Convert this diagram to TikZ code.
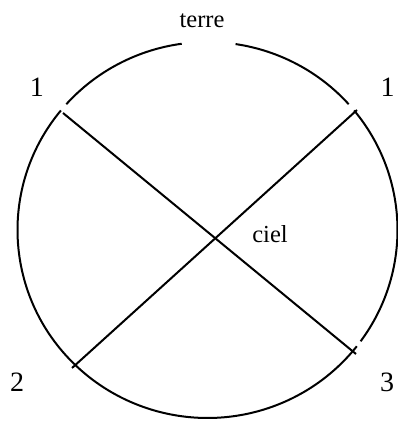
\documentclass[tikz,border=0pt]{standalone}
\usepackage{fontspec}
\setmainfont{Liberation Serif}
\usepackage{tikz}
\usetikzlibrary{positioning, calc}

\begin{document}
\begin{tikzpicture}[x=1pt, y=1pt,
    rim/.style={line width=2pt},
    bar/.style={line width=2pt},
    word/.style={font=\fontsize{24.5}{28}\selectfont, inner sep=0pt, anchor=base},
    num/.style={font=\fontsize{28}{30}\selectfont, inner sep=0pt, anchor=base}]
    \useasboundingbox (0,0) rectangle (398,421);
    \coordinate (c) at (207.5,191);
    % circle, broken in four places
    \draw[rim] ($(c)+(97.8:190 and 188)$) arc[start angle=97.8, end angle=138, x radius=190, y radius=188];
    \draw[rim] ($(c)+(140.5:190 and 188)$) arc[start angle=140.5, end angle=321.8, x radius=190, y radius=188];
    \draw[rim] ($(c)+(323.7:190 and 188)$) arc[start angle=323.7, end angle=399.5, x radius=190, y radius=188];
    \draw[rim] ($(c)+(42:190 and 188)$) arc[start angle=42, end angle=81.5, x radius=190, y radius=188];
    % ends of the two bars
    \coordinate (ul) at (63,308);
    \coordinate (ur) at (357,311);
    \coordinate (ll) at (72,53);
    \coordinate (lr) at (356,67);
    \draw[bar] (ul) -- (lr);
    \draw[bar] (ur) -- (ll);
    % labels
    \node[word] (terre) at (202,393) {terre};
    \node[word] (ciel) at (270,178) {ciel};
    \node[num] (n1a) at (37,324) {1};
    \node[num] (n1b) at (387.5,324) {1};
    \node[num] (n2) at (17,29) {2};
    \node[num] (n3) at (387,29) {3};
\end{tikzpicture}
\end{document}
